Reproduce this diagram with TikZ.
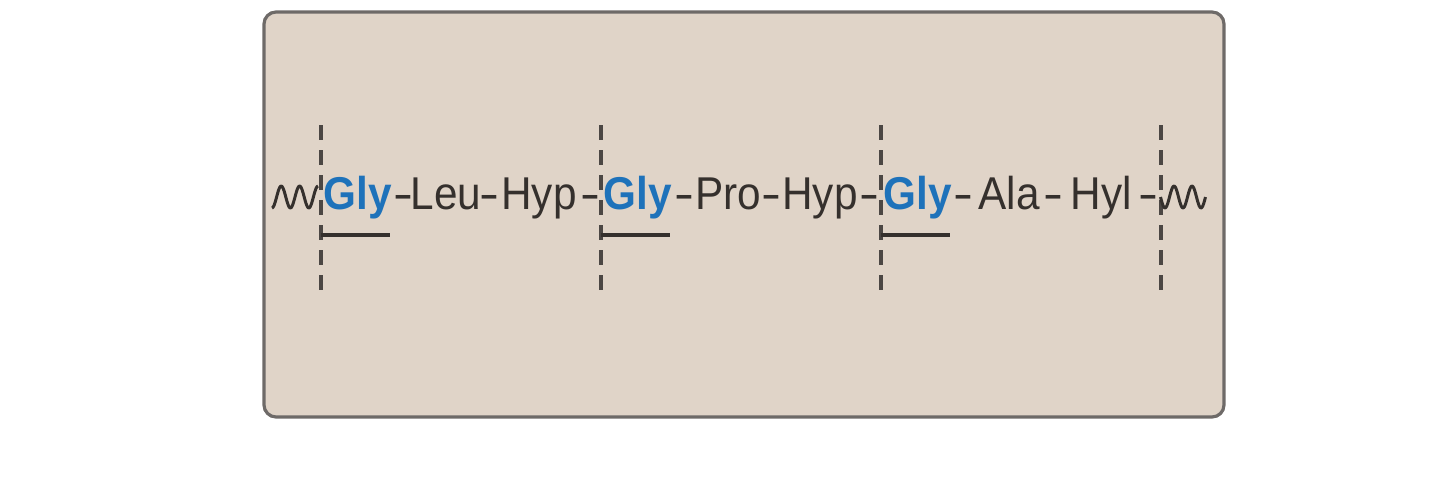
\documentclass[tikz,border=0pt]{standalone}
\usepackage{fontspec}
\setmainfont{Liberation Sans}
\newfontfamily\cond[FakeStretch=0.92]{Liberation Sans}
\newfontfamily\wide[FakeStretch=1.3]{Liberation Sans}
\definecolor{boxfill}{HTML}{E0D4C8}
\definecolor{boxline}{HTML}{6E6A68}
\definecolor{txt}{HTML}{35302D}
\definecolor{glyblue}{HTML}{1E72BA}
\definecolor{dashc}{HTML}{4C4744}
\begin{document}
\begin{tikzpicture}[x=0.5pt,y=-0.5pt,
  res/.style={inner sep=0pt,anchor=base,text=txt,font=\cond\fontsize{23}{26}\selectfont},
  gly/.style={res,text=glyblue,font=\cond\fontsize{23}{26}\selectfont\bfseries},
  hy/.style={res,font=\wide\fontsize{23}{26}\selectfont},
  sep/.style={draw=dashc,line width=1.6pt,dash pattern=on 7.5pt off 5pt},
  uline/.style={draw=txt,line width=2pt},
  wave/.style={draw=txt,line width=1.5pt,line join=round}]
\useasboundingbox (0,0) rectangle (1440,498);
\draw[fill=boxfill,draw=boxline,line width=1.6pt,rounded corners=6pt] (264,12) rectangle (1224,417);
% separators
\foreach \i/\xx in {1/321,2/601,3/881,4/1161}{
  \coordinate (st\i) at (\xx,125);
  \coordinate (sb\i) at (\xx,297);
  \draw[sep] (st\i) -- (sb\i);
}
% residues
\node[gly] (g1) at (358,209) {Gly};
\node[hy]  (h1) at (403,209) {-};
\node[res] (leu) at (446,209) {Leu};
\node[hy]  (h2) at (489,209) {-};
\node[res] (hyp1) at (539,209) {Hyp};
\node[hy]  (h3) at (590,209) {-};
\node[gly] (g2) at (638,209) {Gly};
\node[hy]  (h4) at (684,209) {-};
\node[res] (pro) at (728,209) {Pro};
\node[hy]  (h5) at (771,209) {-};
\node[res] (hyp2) at (820,209) {Hyp};
\node[hy]  (h6) at (869,209) {-};
\node[gly] (g3) at (918,209) {Gly};
\node[hy]  (h7) at (963,209) {-};
\node[res] (ala) at (1009,209) {Ala};
\node[hy]  (h8) at (1053,209) {-};
\node[res] (hyl) at (1101,209) {Hyl};
\node[hy]  (h9) at (1148,209) {-};
% underlines
\foreach \i/\xx in {1/321,2/601,3/881}{
  \coordinate (ua\i) at (\xx,235);
  \coordinate (ub\i) at (\xx+69,235);
  \draw[uline] (ua\i) -- (ub\i);
}
% waves
\draw[wave] plot[smooth,domain=0:2.5,samples=50] ({272+\x*18.4},{197+11*cos(360*\x)});
\draw[wave] plot[smooth,domain=0.25:2.75,samples=50] ({1156+\x*18},{197+11*sin(360*\x-90)});
\end{tikzpicture}
\end{document}
